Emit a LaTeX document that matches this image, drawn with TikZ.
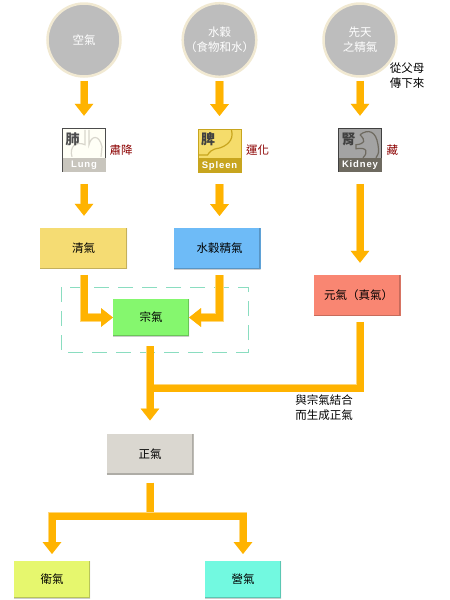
\documentclass[tikz,border=0pt]{standalone}
\usepackage{fontspec}
\setmainfont{Noto Sans CJK TC}
\newfontfamily\latinfont[LetterSpace=9]{Liberation Sans}
\usetikzlibrary{arrows.meta,positioning,calc}
\definecolor{flowcol}{HTML}{FFB300}
\definecolor{flowhalo}{HTML}{FFD77A}
\definecolor{halocol}{HTML}{F1E9D2}
\definecolor{discol}{HTML}{BDBDBD}
\definecolor{actcol}{HTML}{8B0000}
\definecolor{dashcol}{HTML}{8ADDC0}
\definecolor{clearcol}{HTML}{F5DC73}
\definecolor{graincol}{HTML}{6EBBF7}
\definecolor{origincol}{HTML}{F98672}
\definecolor{zongcol}{HTML}{85F76E}
\definecolor{zhengcol}{HTML}{DAD7D0}
\definecolor{weicol}{HTML}{E6F76E}
\definecolor{yingcol}{HTML}{72F9E0}
\definecolor{lungfill}{HTML}{FFFFF6}
\definecolor{lungband}{HTML}{C8C5BD}
\definecolor{lungline}{HTML}{D8D6CC}
\definecolor{spleenfill}{HTML}{F5DC6B}
\definecolor{spleenband}{HTML}{C8A51E}
\definecolor{kidneyfill}{HTML}{A3A3A3}
\definecolor{kidneyband}{HTML}{6E6A60}
\tikzset{
  source/.style={circle, fill=discol, draw=halocol, line width=2.5pt, minimum size=73pt, inner sep=0pt, outer sep=1.25pt, text=white, align=center},
  qibox/.style={rectangle, fill=#1, minimum width=87pt, minimum height=41pt, inner sep=0pt, outer sep=0pt, align=center,
    path picture={\draw[black, opacity=0.2, line width=2.5pt] (path picture bounding box.south west) -- (path picture bounding box.south east) -- (path picture bounding box.north east);}},
  smallbox/.style={qibox=#1, minimum width=76pt, minimum height=37pt},
  organ/.style={rectangle, minimum size=43pt, inner sep=0pt, outer sep=0pt, draw=#1, line width=1pt},
  act/.style={text=actcol, inner sep=0pt},
  note/.style={align=center, inner sep=0pt},
  flow/.style={draw=flowcol, line width=7pt, -{Triangle[width=18pt,length=12pt]}, preaction={draw=flowhalo, line width=8.5pt}},
  trunk/.style={draw=flowcol, line width=7pt, preaction={draw=flowhalo, line width=8.5pt}},
  band/.style={inner sep=0pt, text=white, font=\latinfont\bfseries\fontsize{9.5}{9.5}\selectfont},
  glyph/.style={inner sep=0pt, font=\bfseries\fontsize{14}{14}\selectfont}
}
\begin{document}
\begin{tikzpicture}[x=1pt, y=-1pt, font=\fontsize{11.5}{15}\selectfont, >=Latex, node distance=10pt]
\useasboundingbox (0,0) rectangle (450,600);
% sources
\node[source] (air) at (84,40) {空氣};
\node[source] (food) at (219.5,40) {水穀\\（食物和水）};
\node[source] (essence) at (360,40) {先天\\之精氣};
\node[note] (parent) at (407,76) {從父母\\傳下來};
% organs
\node[organ=black!70, fill=lungfill, below=51pt of air] (lung) {};
\node[organ=spleenband, fill=spleenfill, below=51pt of food] (spleen) {};
\node[organ=black!75, fill=kidneyfill, below=51pt of essence] (kidney) {};
\fill[lungband] (lung.south west) rectangle ($(lung.south east)+(0,-14)$);
\fill[spleenband] (spleen.south west) rectangle ($(spleen.south east)+(0,-14)$);
\fill[kidneyband] (kidney.south west) rectangle ($(kidney.south east)+(0,-14)$);
\draw[lungline, line width=1.2pt] ($(lung.north)+(1,1)$) -- ($(lung.north)+(1,16)$) .. controls ($(lung.north)+(-8,12)$) and ($(lung.north)+(-15,18)$) .. ($(lung.north)+(-12,28)$);
\draw[lungline, line width=1.2pt] ($(lung.north)+(5,1)$) -- ($(lung.north)+(5,16)$) .. controls ($(lung.north)+(7,7)$) and ($(lung.north)+(15,5)$) .. ($(lung.north)+(18,18)$) -- ($(lung.north)+(17,28)$);
\draw[spleenband, line width=1.2pt] ($(spleen.north)+(12,1)$) .. controls ($(spleen.north)+(15,12)$) and ($(spleen.north)+(6,17)$) .. ($(spleen.north)+(0,19)$) .. controls ($(spleen.north)+(-8,20)$) and ($(spleen.north)+(-10,23)$) .. ($(spleen.north)+(-12,26)$) -- ($(spleen.north west)+(1,26)$);
\draw[kidneyband, line width=1.2pt] ($(kidney.north)+(0,6)$) .. controls ($(kidney.north)+(8,0)$) and ($(kidney.north)+(16,2)$) .. ($(kidney.north)+(18,16)$) .. controls ($(kidney.north)+(19,24)$) .. ($(kidney.north)+(16,29)$);
\draw[kidneyband, line width=1.2pt] ($(kidney.north)+(0,6)$) .. controls ($(kidney.north)+(6,12)$) and ($(kidney.north)+(5,15)$) .. ($(kidney.north)+(-4,16)$) -- ($(kidney.north)+(-4,20)$) .. controls ($(kidney.north)+(8,18)$) and ($(kidney.north)+(8,24)$) .. ($(kidney.north)+(3,29)$);
\node[band] (lungname) at ($(lung.south)+(0,-6.5)$) {Lung};
\node[band] (spleenname) at ($(spleen.south)+(0,-6.5)$) {Spleen};
\node[band] (kidneyname) at ($(kidney.south)+(0,-6.5)$) {Kidney};
\node[glyph, text=black!70] (lungchar) at ($(lung.north west)+(10,10.5)$) {肺};
\node[glyph, text=black!75] (spleenchar) at ($(spleen.north west)+(10,10.5)$) {脾};
\node[glyph, text=black!75] (kidneychar) at ($(kidney.north west)+(10,10.5)$) {腎};
\node[act, right=4pt of lung] (descend) {肅降};
\node[act, right=5pt of spleen] (transform) {運化};
\node[act, right=5pt of kidney] (store) {藏};
% qi boxes
\node[qibox=clearcol, below=56pt of lung, xshift=-0.5pt] (clear) {清氣};
\node[qibox=graincol, below=56pt of spleen, xshift=-2.5pt] (grain) {\hspace*{5pt}水穀精氣};
\node[qibox=origincol, below=103pt of kidney, xshift=-3pt] (origin) {\hspace*{3pt}元氣（真氣）};
\node[smallbox=zongcol] (zong) at (151,317.5) {宗氣};
\node[qibox=zhengcol] (zheng) at (150,454) {正氣};
\node[smallbox=weicol] (wei) at (52,579.5) {衛氣};
\node[smallbox=yingcol] (ying) at (243,579.5) {營氣};
\draw[dashcol, line width=0.8pt, dash pattern=on 15pt off 9pt] (61,287) rectangle (248,352);
% connectors
\draw[flow, shorten <=3pt, shorten >=13pt] (air) -- (lung);
\draw[flow, shorten <=3pt, shorten >=13pt] (food) -- (spleen);
\draw[flow, shorten <=3pt, shorten >=13pt] (essence) -- (kidney);
\draw[flow, shorten <=12pt, shorten >=12pt] (lung) -- (clear.north -| lung);
\draw[flow, shorten <=12pt, shorten >=12pt] (spleen) -- (grain.north -| spleen);
\draw[flow, shorten <=12pt, shorten >=12pt] (kidney) -- (origin.north -| kidney);
\draw[flow, shorten <=6pt] (clear.south -| air) |- (zong.west);
\draw[flow, shorten <=6pt] (grain.south -| food) |- (zong.east);
\coordinate (join) at (zheng.north |- 0,388);
\draw[trunk, shorten <=6pt] (origin.south -| kidney) |- (join);
\draw[flow, shorten <=10pt, shorten >=13pt] (zong.south -| zheng) -- (zheng);
\coordinate (fork) at (zheng.south |- 0,516);
\draw[trunk, shorten <=8pt] (zheng.south) -- (fork);
\draw[flow, shorten >=7pt] (fork) -| (wei.north);
\draw[flow, shorten >=7pt] (fork) -| (ying.north);
\node[note] (merge) at (324,408) {與宗氣結合\\而生成正氣};
\end{tikzpicture}
\end{document}
